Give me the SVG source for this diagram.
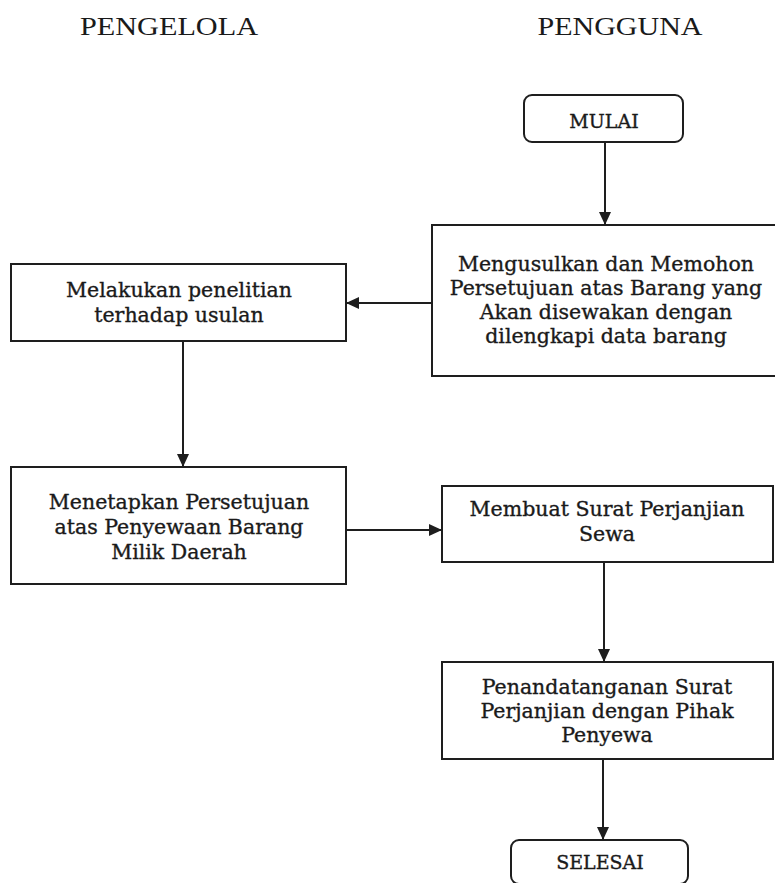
<svg xmlns="http://www.w3.org/2000/svg" width="775" height="883" viewBox="0 0 775 883">
<style>
.box{fill:#fff;stroke:#1e1e1e;stroke-width:2}
.t{font-family:"DejaVu Serif","Liberation Serif",serif;font-size:20.5px;fill:#1a1a1a;stroke:#1a1a1a;stroke-width:0.35;text-anchor:middle}
.term{font-family:"DejaVu Serif","Liberation Serif",serif;font-size:19px;fill:#1a1a1a;stroke:#1a1a1a;stroke-width:0.35;text-anchor:middle}
.h{font-family:"Liberation Serif",serif;font-size:26px;fill:#1a1a1a;text-anchor:middle}
.c{fill:none;stroke:#1e1e1e;stroke-width:2}
</style>
<defs>
<marker id="ah" markerUnits="userSpaceOnUse" markerWidth="14" markerHeight="12" refX="13" refY="6" orient="auto">
<path d="M0,0 L13,6 L0,12 Z" fill="#1e1e1e"/>
</marker>
</defs>
<rect width="775" height="883" fill="#fff"/>
<g id="headers">
<text class="h" x="169" y="35" textLength="178" lengthAdjust="spacingAndGlyphs">PENGELOLA</text>
<text class="h" x="620" y="35" textLength="165" lengthAdjust="spacingAndGlyphs">PENGGUNA</text>
</g>
<g id="mulai">
<rect class="box" x="524" y="95" width="159" height="47" rx="8"/>
<text class="term" x="604" y="128">MULAI</text>
</g>
<g id="mengusulkan">
<rect class="box" x="432" y="225" width="345" height="151"/>
<text class="t" x="606" y="271">Mengusulkan dan Memohon</text>
<text class="t" x="606" y="295">Persetujuan atas Barang yang</text>
<text class="t" x="606" y="319">Akan disewakan dengan</text>
<text class="t" x="606" y="343">dilengkapi data barang</text>
</g>
<g id="penelitian">
<rect class="box" x="11" y="264" width="335" height="77"/>
<text class="t" x="179" y="297">Melakukan penelitian</text>
<text class="t" x="179" y="322">terhadap usulan</text>
</g>
<g id="menetapkan">
<rect class="box" x="11" y="467" width="335" height="117"/>
<text class="t" x="179" y="509">Menetapkan Persetujuan</text>
<text class="t" x="179" y="534">atas Penyewaan Barang</text>
<text class="t" x="179" y="559">Milik Daerah</text>
</g>
<g id="membuat">
<rect class="box" x="442" y="486" width="331" height="76"/>
<text class="t" x="607" y="516">Membuat Surat Perjanjian</text>
<text class="t" x="607" y="541">Sewa</text>
</g>
<g id="penandatanganan">
<rect class="box" x="442" y="662" width="331" height="97"/>
<text class="t" x="607" y="694">Penandatanganan Surat</text>
<text class="t" x="607" y="718">Perjanjian dengan Pihak</text>
<text class="t" x="607" y="742">Penyewa</text>
</g>
<g id="selesai">
<rect class="box" x="511" y="840" width="177" height="44" rx="8"/>
<text class="term" x="600" y="869">SELESAI</text>
</g>
<g id="connectors">
<line class="c" x1="605" y1="142" x2="605" y2="225" marker-end="url(#ah)"/>
<line class="c" x1="432" y1="303" x2="346" y2="303" marker-end="url(#ah)"/>
<line class="c" x1="183" y1="341" x2="183" y2="467" marker-end="url(#ah)"/>
<line class="c" x1="346" y1="530" x2="442" y2="530" marker-end="url(#ah)"/>
<line class="c" x1="604" y1="562" x2="604" y2="662" marker-end="url(#ah)"/>
<line class="c" x1="603" y1="759" x2="603" y2="840" marker-end="url(#ah)"/>
</g>
</svg>
